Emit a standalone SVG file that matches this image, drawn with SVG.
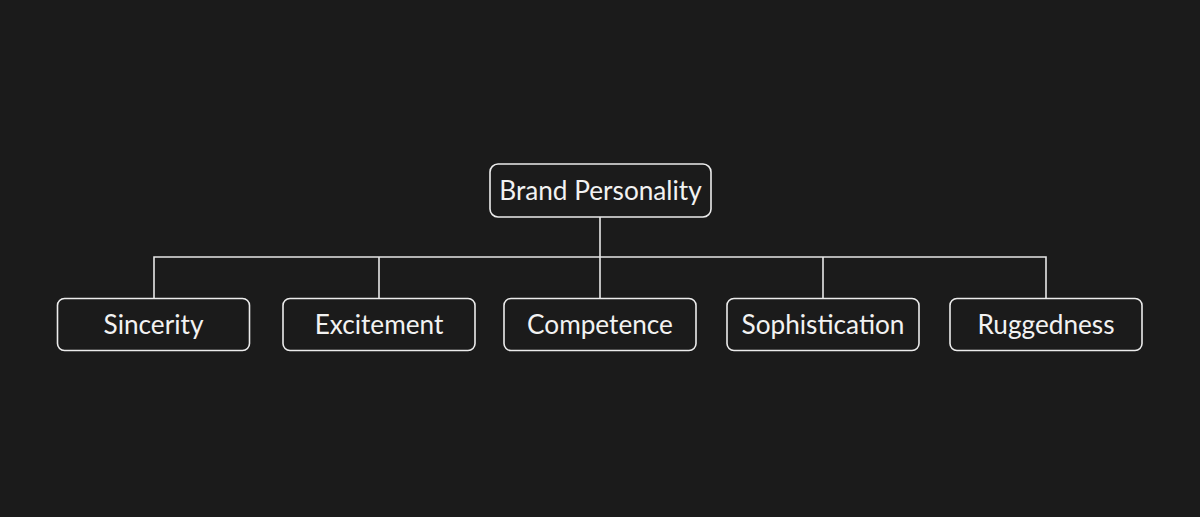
<svg xmlns="http://www.w3.org/2000/svg" width="1200" height="517" viewBox="0 0 1200 517">
<style>
.box{fill:#1b1b1b;stroke:#ececec;stroke-width:1.6}
.lbl{font-family:Lato,"Noto Sans",sans-serif;font-size:26.2px;fill:#f2f2f2;text-anchor:middle}
.ln{fill:none;stroke:#e6e6e6;stroke-width:1.6}
</style>
<rect width="1200" height="517" fill="#1b1b1b"/>
<g id="connectors">
<path class="ln" d="M600 217V257M154 298V257H1046V298M379 257V298M600 257V298M823 257V298"/>
</g>
<g id="root"><rect class="box" x="490" y="164" width="221" height="53" rx="8"/><text class="lbl" x="600.5" y="200">Brand Personality</text></g>
<g id="sincerity"><rect class="box" x="57.5" y="298.5" width="192" height="52" rx="7"/><text class="lbl" x="153.5" y="334">Sincerity</text></g>
<g id="excitement"><rect class="box" x="283" y="298.5" width="192" height="52" rx="7"/><text class="lbl" x="379" y="334">Excitement</text></g>
<g id="competence"><rect class="box" x="504" y="298.5" width="192" height="52" rx="7"/><text class="lbl" x="600" y="334">Competence</text></g>
<g id="sophistication"><rect class="box" x="727" y="298.5" width="192" height="52" rx="7"/><text class="lbl" x="823" y="334">Sophistication</text></g>
<g id="ruggedness"><rect class="box" x="950" y="298.5" width="192" height="52" rx="7"/><text class="lbl" x="1046" y="334">Ruggedness</text></g>
</svg>
